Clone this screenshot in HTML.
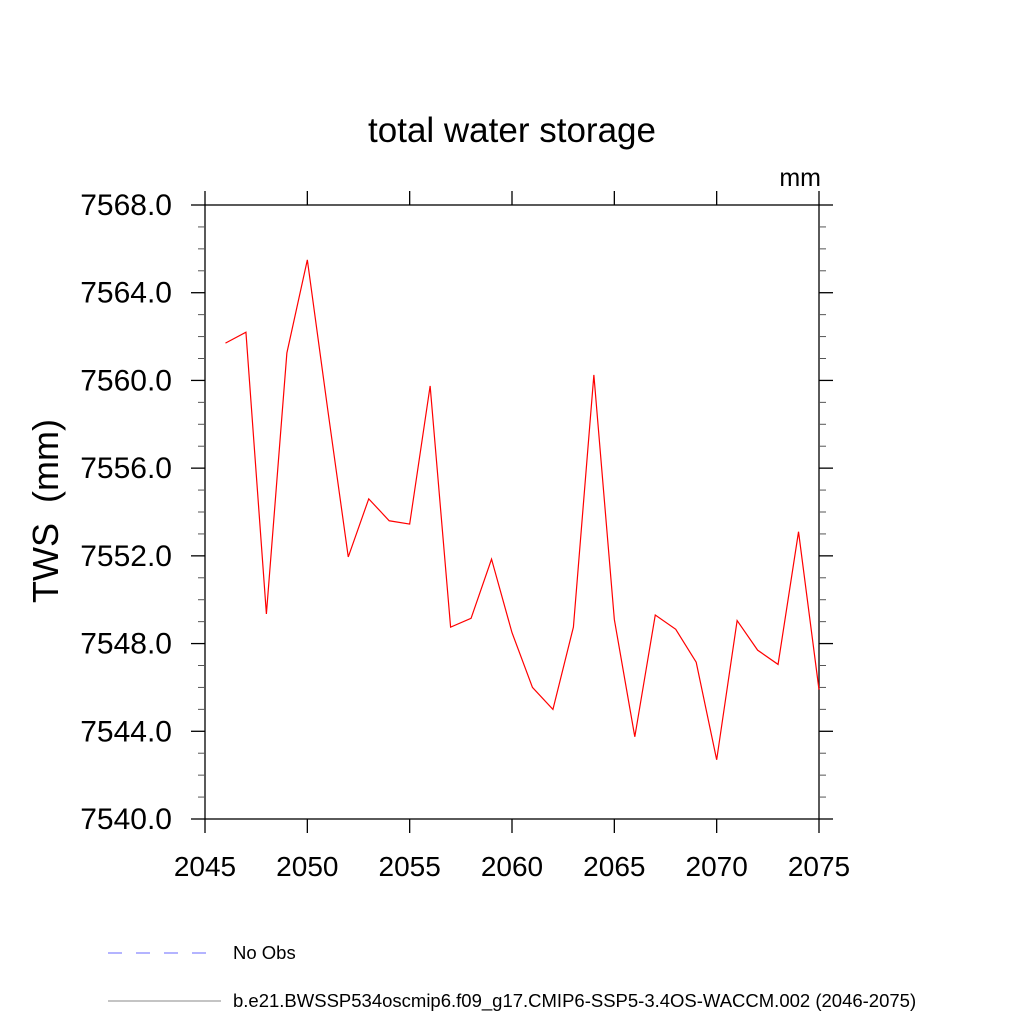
<!DOCTYPE html>
<html><head><meta charset="utf-8"><style>
body{margin:0;background:#fff;}
svg{display:block;font-family:"Liberation Sans",sans-serif;}
</style></head><body>
<svg id="chart" width="1024" height="1024">
<text x="512" y="142" font-size="35" text-anchor="middle">total water storage</text>
<text x="821" y="186" font-size="25" text-anchor="end">mm</text>
<text transform="translate(58,511) rotate(-90)" font-size="36" text-anchor="middle">TWS&#160; (mm)</text>
<g id="axes"></g>
<polyline id="series" fill="none" stroke="#ff0000" stroke-width="1.2"/>
<line x1="108" y1="953" x2="216" y2="953" stroke="#6a6aff" stroke-width="1" stroke-dasharray="14,14"/>
<text x="233" y="959" font-size="18.5">No Obs</text>
<line x1="108" y1="1001" x2="221" y2="1001" stroke="#888" stroke-width="1"/>
<text x="233" y="1007" font-size="18.5">b.e21.BWSSP534oscmip6.f09_g17.CMIP6-SSP5-3.4OS-WACCM.002 (2046-2075)</text>
</svg>
<script>
const years=[2046,2047,2048,2049,2050,2051,2052,2053,2054,2055,2056,2057,2058,2059,2060,2061,2062,2063,2064,2065,2066,2067,2068,2069,2070,2071,2072,2073,2074,2075];
const tws=[7561.7,7562.2,7549.35,7561.25,7565.5,7558.65,7551.95,7554.6,7553.6,7553.45,7559.75,7548.75,7549.15,7551.85,7548.5,7546.0,7545.0,7548.75,7560.25,7549.1,7543.75,7549.3,7548.65,7547.15,7542.7,7549.05,7547.7,7547.05,7553.1,7545.9];
const xTicks=[2045,2050,2055,2060,2065,2070,2075];
const yTicks=[7540,7544,7548,7552,7556,7560,7564,7568];
const L=205,R=819,T=205,B=819,NS="http://www.w3.org/2000/svg";
const xs=v=>L+(v-2045)/30*(R-L);
const ys=v=>B-(v-7540)/28*(B-T);
const ax=document.getElementById('axes');
function ln(x1,y1,x2,y2,w,c){const e=document.createElementNS(NS,'line');e.setAttribute('x1',x1);e.setAttribute('y1',y1);e.setAttribute('x2',x2);e.setAttribute('y2',y2);e.setAttribute('stroke',c||'#000');e.setAttribute('stroke-width',w||1.3);


ax.appendChild(e);return e;}
function tx(x,y,s,a,fs){const e=document.createElementNS(NS,'text');e.setAttribute('x',x);e.setAttribute('y',y);e.setAttribute('font-size',fs);e.setAttribute('text-anchor',a);e.textContent=s;


ax.appendChild(e);}
const fr=document.createElementNS(NS,'rect');fr.setAttribute('x',L);fr.setAttribute('y',T);fr.setAttribute('width',R-L);fr.setAttribute('height',B-T);fr.setAttribute('fill','none');fr.setAttribute('stroke','#000');fr.setAttribute('stroke-width',1.3);


ax.appendChild(fr);
xTicks.forEach(v=>{const x=xs(v);ln(x,B,x,B+14);ln(x,T,x,T-14);tx(x,B+57,String(v),'middle',28);});
for(let v=7540;v<=7568;v++){const y=ys(v);const maj=(v%4===0);const len=maj?14:7;ln(L-len,y,L,y,maj?1.3:1,maj?'#000':'#555');ln(R,y,R+len,y,maj?1.3:1,maj?'#000':'#555');}
yTicks.forEach(v=>tx(L-33,ys(v)+10,v.toFixed(1),'end',30));
document.getElementById('series').setAttribute('points',years.map((y,i)=>xs(y)+','+ys(tws[i])).join(' '));
</script>
</body></html>
